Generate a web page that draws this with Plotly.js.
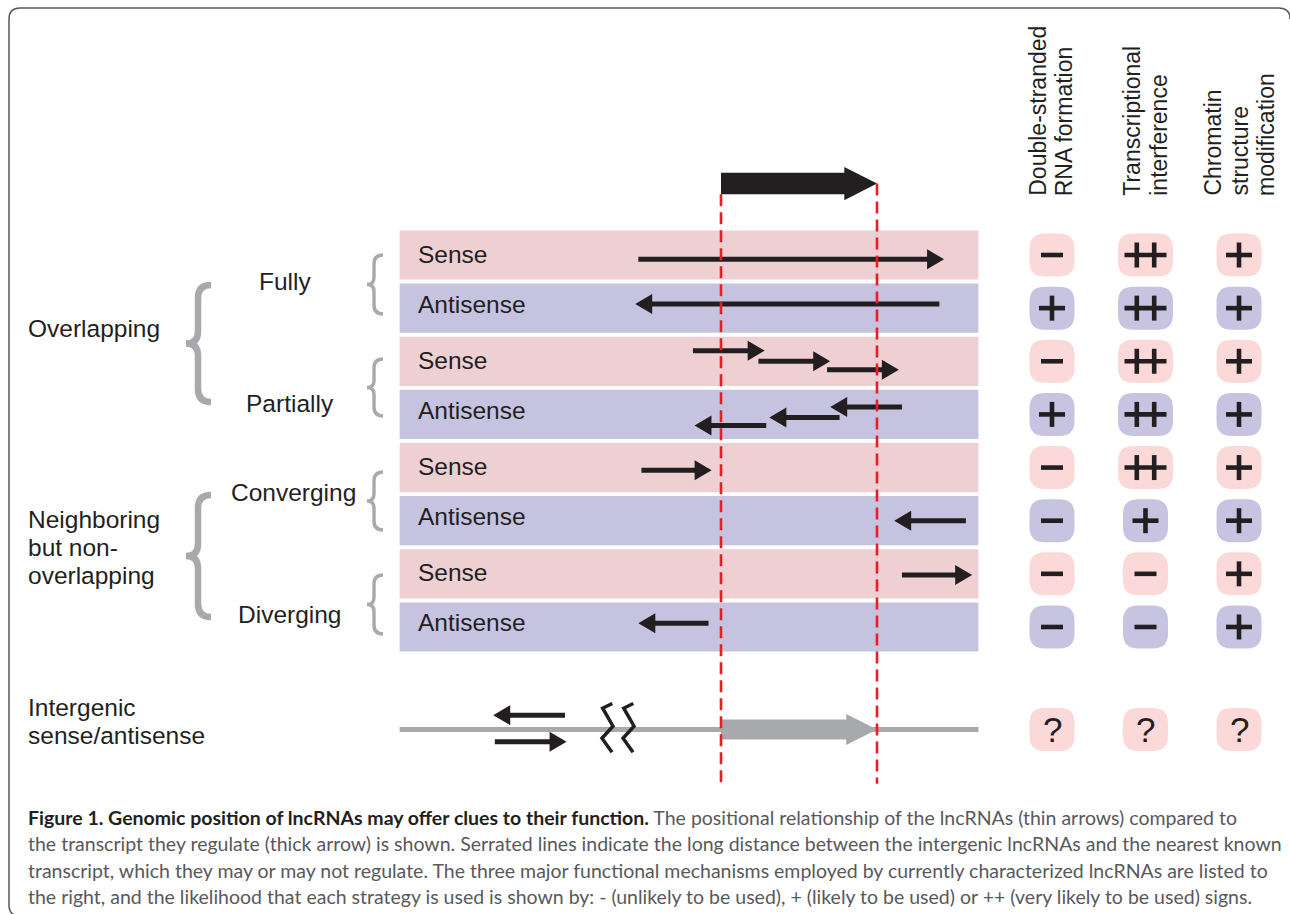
<!DOCTYPE html>
<html><head><meta charset="utf-8">
<script src="https://cdn.plot.ly/plotly-3.0.1.min.js"></script>
<style>html,body{margin:0;padding:0;background:#fff;} #chart{width:1290px;height:914px;}</style>
</head><body><div id="chart"></div>
<script>
// ================= DATA =================
const strands = ['Sense','Antisense','Sense','Antisense','Sense','Antisense','Sense','Antisense'];
const subgroups = ['Fully','Partially','Converging','Diverging'];
const groupLines = [['Overlapping'], ['Neighboring','but non-','overlapping'], ['Intergenic','sense/antisense']];
const mechanisms = [['Double-stranded','RNA formation'], ['Transcriptional','interference'], ['Chromatin','structure','modification']];
// likelihood per row (8 strand rows + intergenic) and mechanism
const likelihood = [
  ['−','++','+'],
  ['+','++','+'],
  ['−','++','+'],
  ['+','++','+'],
  ['−','++','+'],
  ['−','+','+'],
  ['−','−','+'],
  ['−','−','+'],
  ['?','?','?']
];
// genomic window, in units of the regulated transcript (start = 0, end = 100)
const windowStart = -206, windowEnd = 165;
const transcriptStart = 0, transcriptEnd = 100;
const transcriptY = -1.345;   // track of the thick black arrow
const intergenicY = 8.93;     // track of the intergenic row
// lncRNAs (thin arrows): tail, tip (transcript units) and track position (row index)
const lncTail = [-53, 140, -18, 24, 68, 116, 76, 29, -51, 157, 116, -8, -100, -145];
const lncTip  = [143, -55, 28, 70, 114, 70, 31, -17, -6, 111, 161, -53, -146, -99];
const lncY    = [0.08, 0.92, 1.80, 2.00, 2.16, 2.86, 3.06, 3.21, 4.05, 5.00, 6.02, 6.93, 8.66, 9.16];
// serrated (long distance) marks on intergenic track
const serrX = [-69.7, -56.2];
const dashBottomY = 9.95;
const captionLines = [
  '<b><span style="color:#231f20">Figure 1. Genomic position of lncRNAs may offer clues to their function.</span></b> The positional relationship of the lncRNAs (thin arrows) compared to',
  'the transcript they regulate (thick arrow) is shown. Serrated lines indicate the long distance between the intergenic lncRNAs and the nearest known',
  'transcript, which they may or may not regulate. The three major functional mechanisms employed by currently characterized lncRNAs are listed to',
  'the right, and the likelihood that each strategy is used is shown by: - (unlikely to be used), + (likely to be used) or ++ (very likely to be used) signs.'
];

// ================= LAYOUT MAPPING =================
const W = 1290, H = 914;
const PX0 = 721, PXU = 1.56;      // px of transcript start, px per transcript unit
const ROW0 = 255, ROWP = 53.14;   // px of first row centre, px per row
const COL0 = 1052, COLP = 93.5;   // px of first mechanism column, px per column
const ux = p => p / PXU, uy = p => p / ROWP, uc = p => p / COLP;
const PX = p => p / W, PY = p => 1 - p / H;
const FONT = 'Liberation Sans, Arial, sans-serif';
const INK = '#231f20', GREY = '#a7a9ac';
const SENSE_BAND = '#eecfd2', ANTI_BAND = '#c6c3e0';
const SENSE_BOX = '#fcd9d9', ANTI_BOX = '#c7c4e1';

const traces = [], shapes = [], annotations = [];

// ---- bands ----
strands.forEach((s, i) => {
  shapes.push({type:'rect', xref:'x', yref:'y', layer:'below', x0:windowStart, x1:windowEnd,
    y0:i - uy(24.6), y1:i + uy(24.6), fillcolor: s === 'Sense' ? SENSE_BAND : ANTI_BAND, line:{width:0}});
  annotations.push({xref:'x', yref:'y', x: windowStart + ux(16), y: i - uy(s === 'Sense' ? 1 : 4),
    text: s, showarrow:false, xanchor:'left', yanchor:'middle', font:{family:FONT, size:24.5, color:INK}});
});

// ---- intergenic grey track line ----
traces.push({x:[windowStart, windowEnd], y:[intergenicY, intergenicY], mode:'lines',
  line:{color:GREY, width:5}, hoverinfo:'skip'});

// ---- thick transcript arrows ----
function bigArrow(x0, x1, y, bodyH, headH, headL) {
  const hb = uy(bodyH/2), hh = uy(headH/2), xb = x1 - ux(headL);
  return {x:[x0, xb, xb, x1, xb, xb, x0, x0], y:[y-hb, y-hb, y-hh, y, y+hh, y+hb, y+hb, y-hb]};
}
const blk = bigArrow(transcriptStart, transcriptEnd, transcriptY, 21.6, 33.3, 32.7);
traces.push({x:blk.x, y:blk.y, mode:'lines', fill:'toself', fillcolor:INK, line:{width:0, color:INK}, hoverinfo:'skip'});
const gry = bigArrow(transcriptStart, transcriptEnd, intergenicY, 20, 31, 30.8);
traces.push({x:gry.x, y:gry.y, mode:'lines', fill:'toself', fillcolor:GREY, line:{width:0, color:GREY}, hoverinfo:'skip'});

// ---- thin lncRNA arrows ----
const HEADL = ux(17), HEADH = uy(10);
const sx = [], sy = [], hx = [], hy = [];
lncTail.forEach((t, i) => {
  const tip = lncTip[i], y = lncY[i], d = Math.sign(tip - t), base = tip - d*HEADL;
  sx.push(t, base + d*ux(1), null); sy.push(y, y, null);
  hx.push(base, tip, base, base, null); hy.push(y-HEADH, y, y+HEADH, y-HEADH, null);
});
traces.push({x:sx, y:sy, mode:'lines', line:{color:INK, width:5}, hoverinfo:'skip'});
traces.push({x:hx, y:hy, mode:'lines', fill:'toself', fillcolor:INK, line:{width:0, color:INK}, hoverinfo:'skip'});

// ---- serrated marks ----
const zdx = [0, -9.6, 0.7, -10.3, -0.3], zdy = [-26, -21.3, -3.3, 8.7, 22.7];
const zx = [], zy = [];
serrX.forEach(x => { zdx.forEach((d, j) => { zx.push(x + ux(d)); zy.push(intergenicY + uy(zdy[j])); }); zx.push(null); zy.push(null); });
traces.push({x:zx, y:zy, mode:'lines', line:{color:INK, width:3.5}, hoverinfo:'skip'});

// ---- red dashed boundaries of the regulated transcript ----
traces.push({x:[transcriptStart, transcriptStart, null, transcriptEnd, transcriptEnd],
  y:[transcriptY + uy(10.8), dashBottomY, null, transcriptY, dashBottomY],
  mode:'lines', line:{color:'#ec1c24', width:2.6, dash:'12px,6px'}, hoverinfo:'skip'});

// ---- likelihood symbols ----
function roundRect(cx, cy, hw, hh, r) {
  const L = cx - uc(hw), R = cx + uc(hw), T = cy - uy(hh), B = cy + uy(hh), rx = uc(r), ry = uy(r);
  return `M ${L+rx},${T} L ${R-rx},${T} Q ${R},${T} ${R},${T+ry} L ${R},${B-ry} Q ${R},${B} ${R-rx},${B} ` +
         `L ${L+rx},${B} Q ${L},${B} ${L},${B-ry} L ${L},${T+ry} Q ${L},${T} ${L+rx},${T} Z`;
}
const gx = [], gy = [];
const seg = (x0, y0, x1, y1) => { gx.push(x0, x1, null); gy.push(y0, y1, null); };
likelihood.forEach((row, r) => {
  const cy = r < strands.length ? r : intergenicY;
  const anti = r < strands.length && strands[r] === 'Antisense';
  row.forEach((sym, k) => {
    const cx = k;
    shapes.push({type:'path', xref:'x2', yref:'y', layer:'below', path: roundRect(cx, cy, sym === '++' ? 27.5 : 22.5, 21.5, 15),
      fillcolor: anti ? ANTI_BOX : SENSE_BOX, line:{width:0}});
    if (sym === '−') seg(cx - uc(11), cy, cx + uc(11), cy);
    else if (sym === '+') { seg(cx - uc(13), cy, cx + uc(13), cy); seg(cx, cy - uy(12.5), cx, cy + uy(12.5)); }
    else if (sym === '++') { seg(cx - uc(21), cy, cx + uc(21), cy);
      seg(cx - uc(8.7), cy - uy(12.5), cx - uc(8.7), cy + uy(12.5)); seg(cx + uc(8.7), cy - uy(12.5), cx + uc(8.7), cy + uy(12.5)); }
    else annotations.push({xref:'x2', yref:'y', x:cx, y:cy, text:sym, showarrow:false, xanchor:'center', yanchor:'middle',
      font:{family:FONT, size:35, color:INK}});
  });
});
traces.push({x:gx, y:gy, xaxis:'x2', yaxis:'y', mode:'lines', line:{color:INK, width:4.6}, hoverinfo:'skip'});

// ---- mechanism headers (rotated) ----
const headerCentres = [1051, 1145, 1239], headerPitch = 26.5;
mechanisms.forEach((lines, k) => {
  const n = lines.length;
  lines.forEach((t, j) => {
    const xc = headerCentres[k] + (j - (n-1)/2) * headerPitch;
    annotations.push({xref:'paper', yref:'paper', x:PX(xc), y:PY(198), text:t, textangle:-90, showarrow:false,
      xanchor:'center', yanchor:'bottom', font:{family:FONT, size:23, color:INK}});
  });
});

// ---- left labels ----
const subPos = [[285,281],[290,403],[293,492],[290,614]];
subgroups.forEach((t, i) => annotations.push({xref:'paper', yref:'paper', x:PX(subPos[i][0]), y:PY(subPos[i][1]), text:t,
  showarrow:false, xanchor:'center', yanchor:'middle', font:{family:FONT, size:24.5, color:INK}}));
const groupTop = [328, 519, 707], groupLead = 28;
groupLines.forEach((lines, g) => lines.forEach((t, j) => annotations.push({xref:'paper', yref:'paper', x:PX(26), y:PY(groupTop[g] + j*groupLead),
  text:t, showarrow:false, xanchor:'left', yanchor:'middle', font:{family:FONT, size:24.5, color:INK}})));

// ---- braces ----
function bracePath(xTip, xStem, xEnd, y0, y1) {
  const ym = (y0 + y1)/2, r = xEnd - xStem, r2 = xStem - xTip;
  const p = (x, y) => `${PX(x)},${PY(y)}`;
  return `M ${p(xEnd,y0)} Q ${p(xStem,y0)} ${p(xStem,y0+r)} L ${p(xStem,ym-r2)} Q ${p(xStem,ym)} ${p(xTip,ym)} ` +
         `Q ${p(xStem,ym)} ${p(xStem,ym+r2)} L ${p(xStem,y1-r)} Q ${p(xStem,y1)} ${p(xEnd,y1)}`;
}
[[285, 402],[495, 617]].forEach(([a,b]) => shapes.push({type:'path', xref:'paper', yref:'paper', path:bracePath(186, 198, 211, a, b),
  line:{color:GREY, width:6.5}}));
[[255, 314],[359, 416],[472, 530],[575, 634]].forEach(([a,b]) => shapes.push({type:'path', xref:'paper', yref:'paper',
  path:bracePath(367, 374, 383, a, b), line:{color:GREY, width:3.4}}));

// ---- frame ----
{
  const p = (x, y) => `${PX(x)},${PY(y)}`;
  shapes.push({type:'path', xref:'paper', yref:'paper',
    path:`M ${p(20,916)} Q ${p(9,916)} ${p(9,905)} L ${p(9,19)} Q ${p(9,8)} ${p(20,8)} L ${p(1279,8)} Q ${p(1290,8)} ${p(1290,19)}`,
    line:{color:'#58595b', width:1.5}});
}

// ---- caption ----
const capY = [817, 843.5, 870, 896];
captionLines.forEach((t, i) => annotations.push({xref:'paper', yref:'paper', x:PX(26), y:PY(capY[i]), text:t, showarrow:false,
  xanchor:'left', yanchor:'middle', font:{family:'Lato, Open Sans, sans-serif', size:19.5, color:'#58595b'}}));

const layout = {
  width:W, height:H, autosize:false, showlegend:false,
  margin:{l:0, r:0, t:0, b:0, pad:0},
  paper_bgcolor:'#ffffff', plot_bgcolor:'#ffffff',
  xaxis:{range:[(0-PX0)/PXU, (W-PX0)/PXU], visible:false, fixedrange:true},
  xaxis2:{range:[(0-COL0)/COLP, (W-COL0)/COLP], overlaying:'x', visible:false, fixedrange:true},
  yaxis:{range:[(H-ROW0)/ROWP, (0-ROW0)/ROWP], visible:false, fixedrange:true},
  shapes, annotations
};
Plotly.newPlot('chart', traces, layout, {staticPlot:true, displayModeBar:false});
</script></body></html>
